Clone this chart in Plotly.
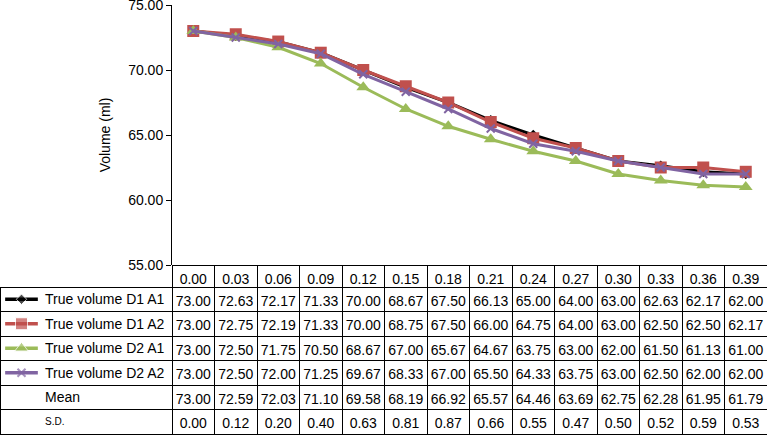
import plotly.graph_objects as go

# ---- data ----
time_labels = ["0.00", "0.03", "0.06", "0.09", "0.12", "0.15", "0.18",
               "0.21", "0.24", "0.27", "0.30", "0.33", "0.36", "0.39"]
d1a1 = [73.00, 72.63, 72.17, 71.33, 70.00, 68.67, 67.50, 66.13, 65.00, 64.00, 63.00, 62.63, 62.17, 62.00]
d1a2 = [73.00, 72.75, 72.19, 71.33, 70.00, 68.75, 67.50, 66.00, 64.75, 64.00, 63.00, 62.50, 62.50, 62.17]
d2a1 = [73.00, 72.50, 71.75, 70.50, 68.67, 67.00, 65.67, 64.67, 63.75, 63.00, 62.00, 61.50, 61.13, 61.00]
d2a2 = [73.00, 72.50, 72.00, 71.25, 69.67, 68.33, 67.00, 65.50, 64.33, 63.75, 63.00, 62.50, 62.00, 62.00]
mean_vals = [73.00, 72.59, 72.03, 71.10, 69.58, 68.19, 66.92, 65.57, 64.46, 63.69, 62.75, 62.28, 61.95, 61.79]
sd_vals = [0.00, 0.12, 0.20, 0.40, 0.63, 0.81, 0.87, 0.66, 0.55, 0.47, 0.50, 0.52, 0.59, 0.53]

series_names = ["True volume D1 A1", "True volume D1 A2", "True volume D2 A1", "True volume D2 A2"]
series_vals = [d1a1, d1a2, d2a1, d2a2]
row_labels = series_names + ["Mean", "S.D."]

# ---- styles ----
colors = ["#000000", "#C0504D", "#9BBB59", "#8064A2"]
symbols = ["diamond", "square", "triangle-up", "x-thin"]
msizes = [8, 12, 12, 8]
FONT = "Liberation Sans, Arial, Helvetica, sans-serif"
FS = 14

W, H = 767, 439
left_px = 172
plot_top, plot_bot = 5, 265
hdr_h, row_h = 22, 24.5
tbl_bot = plot_bot + hdr_h + row_h * 6

fig = go.Figure()

for name, vals, c, s, ms in zip(series_names, series_vals, colors, symbols, msizes):
    mk = dict(symbol=s, size=ms, color=c)
    if s == "x-thin":
        mk["line"] = dict(color=c, width=2)
    fig.add_trace(go.Scatter(x=time_labels, y=vals, mode="lines+markers", name=name,
                             line=dict(color=c, width=3), marker=mk, showlegend=False))

# ---- table ----
all_rows = series_vals + [mean_vals, sd_vals]
n = len(time_labels)
col0 = [""] * len(row_labels)
cols = [col0] + [["%.2f" % all_rows[r][j] for r in range(len(all_rows))] for j in range(n)]
clear = "rgba(0,0,0,0)"

fig.add_trace(go.Table(
    domain=dict(x=[0, 1], y=[1 - (tbl_bot + 1) / H, 1 - plot_bot / H]),
    columnwidth=[left_px] + [(W - left_px) / n] * n,
    header=dict(values=[""] + time_labels, height=hdr_h, align="center",
                line=dict(color=[clear] + ["black"] * n, width=1),
                fill=dict(color=clear),
                font=dict(family=FONT, size=FS, color="black")),
    cells=dict(values=cols, height=row_h, align="center",
               line=dict(color="black", width=1),
               fill=dict(color=clear),
               font=dict(family=FONT, size=FS, color="black")),
))

# row labels of the table (S.D. is set in smaller type in the reference)
for i, lab in enumerate(row_labels):
    fig.add_annotation(text=lab, xref="paper", yref="paper",
                       x=43 / W, y=1 - (plot_bot + hdr_h + row_h * (i + 0.5)) / H,
                       xanchor="left", yanchor="middle", showarrow=False,
                       font=dict(family=FONT, size=10 if lab == "S.D." else FS, color="black"))

# ---- legend swatches in table label column ----
sw_x = [0.03, 0.125, 0.22]
for i, (c, s, ms) in enumerate(zip(colors, symbols, msizes)):
    mk = dict(symbol=s, size=[0, ms, 0], color=c)
    if s == "x-thin":
        mk["line"] = dict(color=c, width=2)
    fig.add_trace(go.Scatter(x=sw_x, y=[i + 0.5] * 3, mode="lines+markers",
                             line=dict(color=c, width=3.5), marker=mk,
                             xaxis="x2", yaxis="y2", showlegend=False, hoverinfo="skip"))

fig.update_layout(
    width=W, height=H,
    margin=dict(l=0, r=0, t=0, b=0, autoexpand=False),
    paper_bgcolor="white", plot_bgcolor="white",
    font=dict(family=FONT, size=FS, color="black"),
    xaxis=dict(domain=[left_px / W, 1], type="category", range=[-0.5, n - 0.5], automargin=False,
               showticklabels=False, showgrid=False, zeroline=False, showline=False, ticks=""),
    yaxis=dict(domain=[1 - plot_bot / H, 1 - plot_top / H], range=[55, 75], dtick=5,
               tickformat=".2f", showgrid=False, zeroline=False, showline=True, automargin=False,
               linecolor="black", linewidth=1, ticks="outside", ticklen=5, tickcolor="black",
               ticklabeloverflow="allow",
               title=dict(text="Volume (ml)", standoff=14, font=dict(size=FS))),
    xaxis2=dict(domain=[0, left_px / W], range=[0, 1], visible=False, fixedrange=True, automargin=False),
    yaxis2=dict(domain=[1 - (plot_bot + hdr_h + row_h * 6) / H, 1 - (plot_bot + hdr_h) / H],
                range=[6, 0], visible=False, fixedrange=True, anchor="x2", automargin=False),
)

fig.write_html("out.html", config={"displayModeBar": False},
               post_script="document.body.style.margin='0';")
